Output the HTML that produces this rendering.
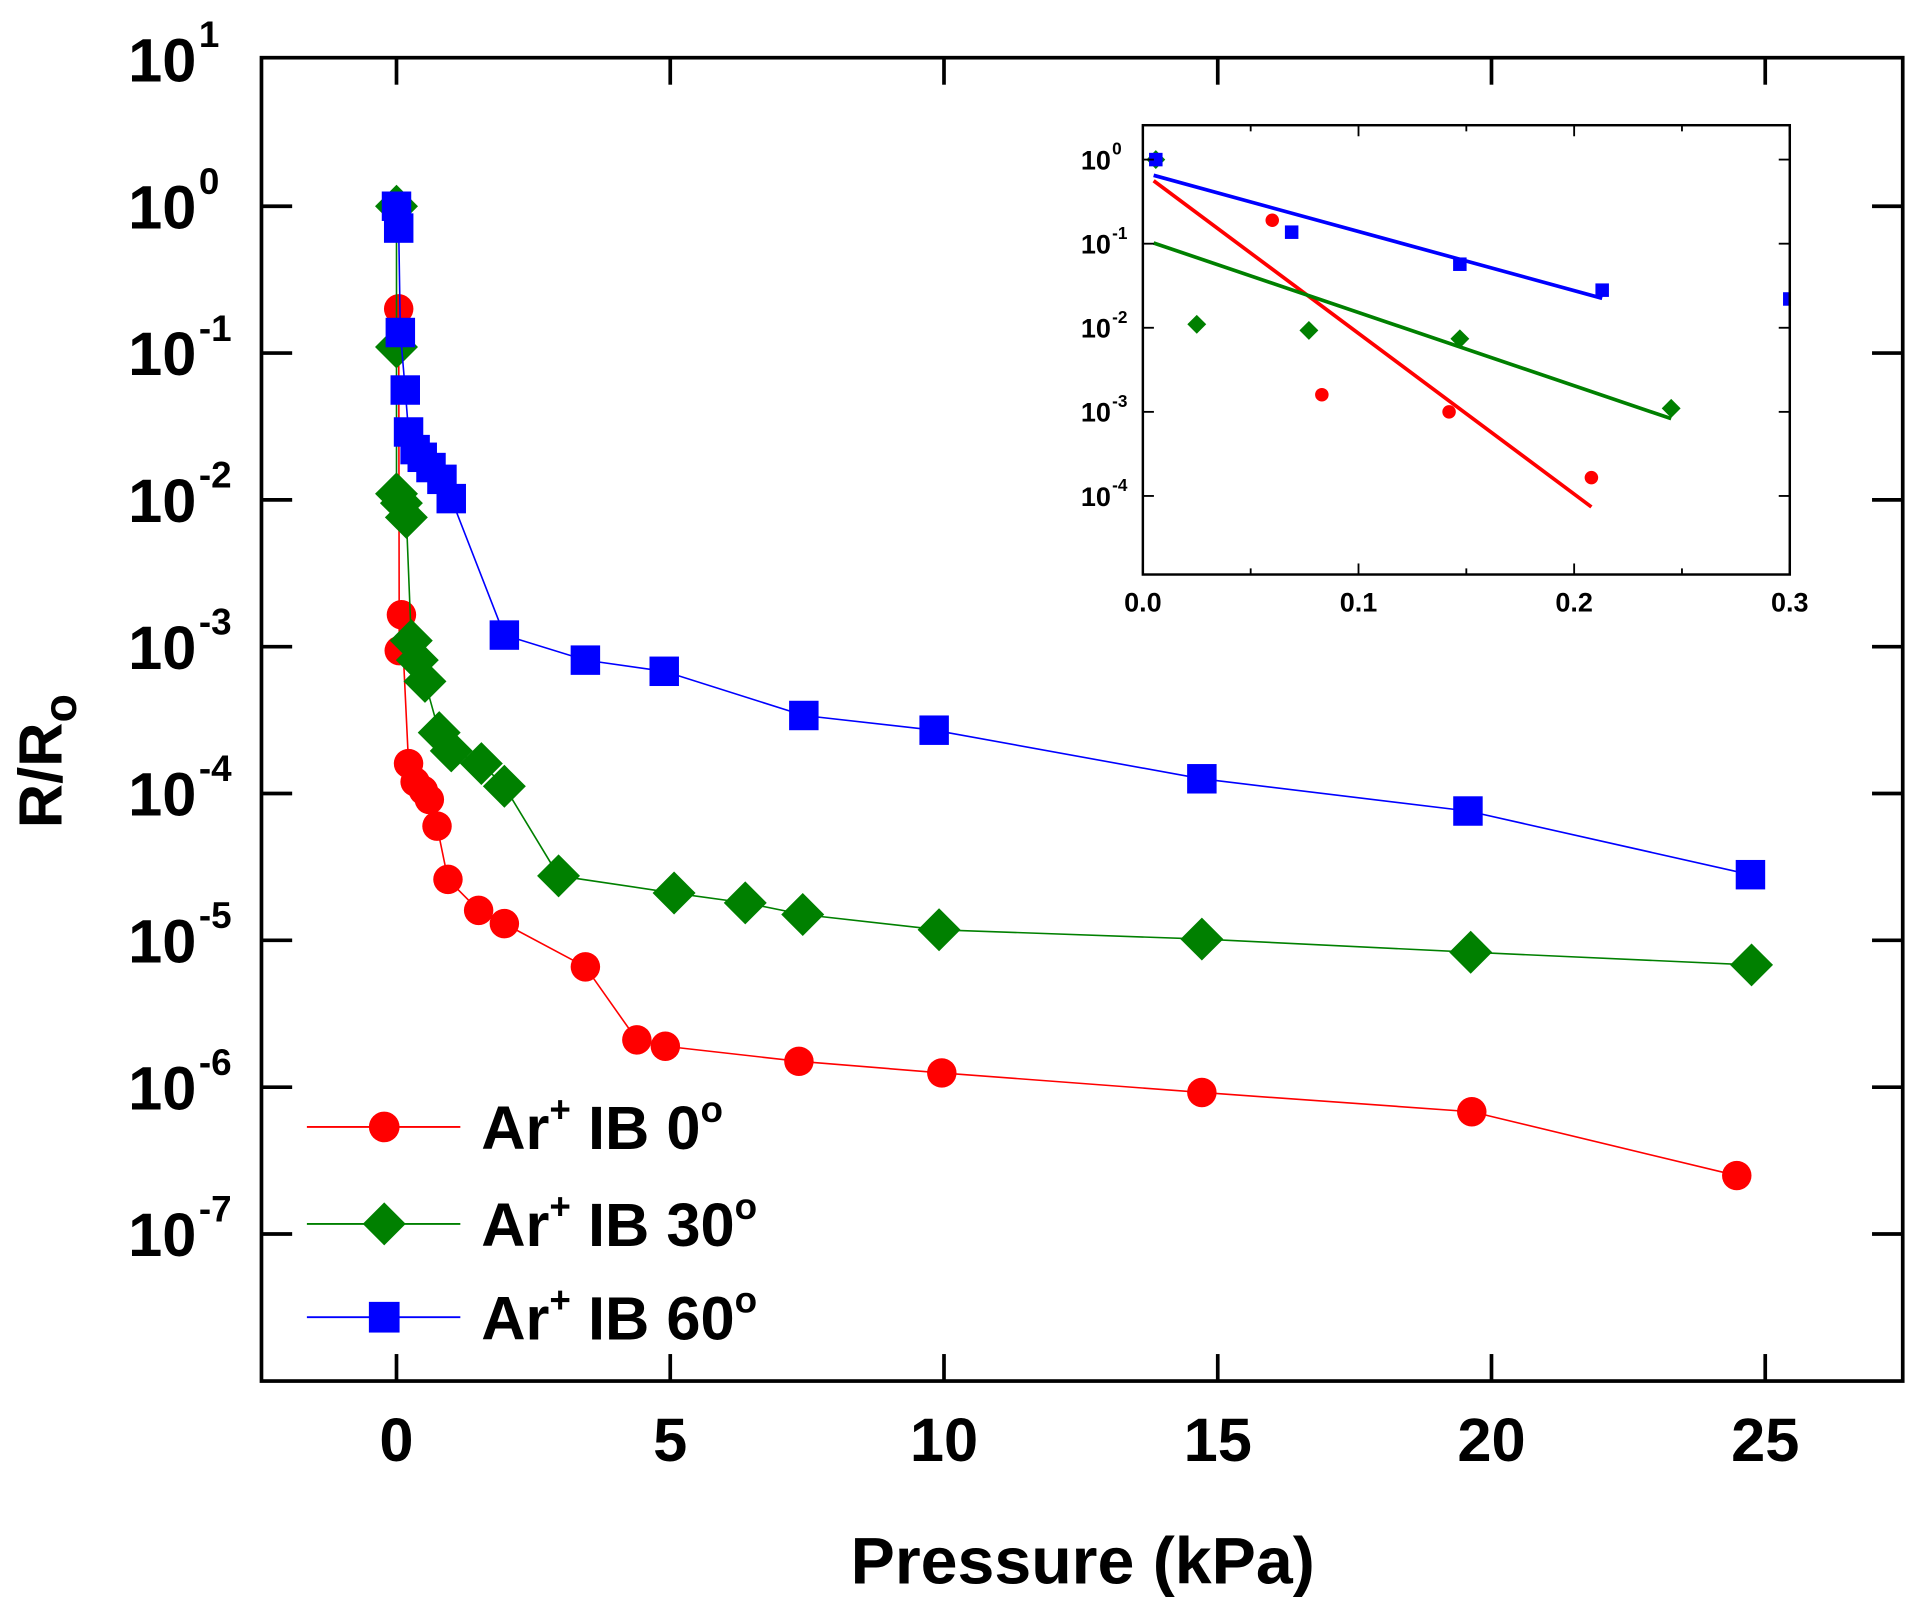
<!DOCTYPE html>
<html><head><meta charset="utf-8"><style>
html,body{margin:0;padding:0;background:#fff;}
svg{display:block;}
text{font-family:"Liberation Sans",sans-serif;font-weight:bold;fill:#000;}
</style></head><body>
<svg id="chart" width="1915" height="1603" viewBox="0 0 1560 1305.8" preserveAspectRatio="none" xmlns="http://www.w3.org/2000/svg">
<rect x="0" y="0" width="1560" height="1306" fill="#fff"/>
<g id="main"></g>
<g id="inset"></g>
</svg>
<script>
// ---- main chart data ----
const redX=[0.04,0.05,0.09,0.22,0.34,0.49,0.6,0.74,0.94,1.5,1.97,3.45,4.39,4.91,7.35,9.96,14.71,19.64,24.48];
const redY=[0.2,9.4e-4,1.65e-3,1.6e-4,1.2e-4,1.05e-4,9.1e-5,6e-5,2.6e-5,1.6e-5,1.3e-5,6.6e-6,2.1e-6,1.9e-6,1.5e-6,1.25e-6,9.2e-7,6.8e-7,2.5e-7];
const greenX=[0,0,0,0.09,0.18,0.27,0.38,0.52,0.78,1.0,1.55,1.97,2.96,5.07,6.37,7.42,9.91,14.71,19.62,24.75];
const greenY=[1,0.11,0.011,0.0095,0.0076,1.1e-3,8.1e-4,5.8e-4,2.6e-4,1.95e-4,1.6e-4,1.12e-4,2.75e-5,2.1e-5,1.8e-5,1.5e-5,1.18e-5,1.02e-5,8.3e-6,6.8e-6];
const blueX=[0,0.04,0.07,0.16,0.22,0.34,0.47,0.63,0.83,1.0,1.97,3.45,4.89,7.44,9.82,14.71,19.57,24.73];
const blueY=[1,0.71,0.138,0.056,0.029,0.022,0.0195,0.0166,0.0138,0.0102,1.2e-3,8.1e-4,6.8e-4,3.4e-4,2.7e-4,1.26e-4,7.6e-5,2.8e-5];
const xTicks=[0,5,10,15,20,25];
const yTickExp=[1,0,-1,-2,-3,-4,-5,-6,-7];
const legendLabels=["0","30","60"];
// ---- inset data ----
const inRedX=[0.06,0.083,0.142,0.208];
const inRedY=[0.19,1.6e-3,1.0e-3,1.65e-4];
const inGreenX=[0.006,0.025,0.077,0.147,0.245];
const inGreenY=[1,0.011,0.0093,0.0074,1.1e-3];
const inBlueX=[0.006,0.069,0.147,0.213,0.3];
const inBlueY=[1,0.137,0.057,0.028,0.022];
const fitRedX=[0.005,0.208], fitRedY=[0.56,7.4e-5];
const fitGreenX=[0.005,0.245], fitGreenY=[0.102,8.3e-4];
const fitBlueX=[0.005,0.213], fitBlueY=[0.65,0.0224];
const inXTicks=[0,0.1,0.2,0.3];
const inXMinor=[0.05,0.15,0.25];
const inYTickExp=[0,-1,-2,-3,-4];

const NS="http://www.w3.org/2000/svg";
function mk(parent,tag,attrs){const e=document.createElementNS(NS,tag);for(const k in attrs)e.setAttribute(k,attrs[k]);parent.appendChild(e);return e;}

// main axes
const main=document.getElementById('main');


const X0=323,XS=(1438-323)/25;
const Y0=168,YS=119.6;
const xs=v=>X0+v*XS;
const ys=v=>Y0-Math.log10(v)*YS;
const L=213,R=1550,T=47,B=1125;

function marker(g,shape,x,y,s,col){
  let e;
  if(shape==='c') e=mk(g,'circle',{cx:x,cy:y,r:s,fill:col});
  else if(shape==='s') e=mk(g,'rect',{x:x-s,y:y-s,width:2*s,height:2*s,fill:col});
  else { const d=s*1.4; e=mk(g,'polygon',{points:`${x},${y-d} ${x+d},${y} ${x},${y+d} ${x-d},${y}`,fill:col}); }
  return e;
}
function series(g,name,X,Y,col,shape,size,lw,xf,yf){
  const sg=mk(g,'g',{});
  
  
  const idx=X.map((_,i)=>i).sort((a,b)=>X[a]-X[b]);
  const pl=mk(sg,'polyline',{points:idx.map(i=>xf(X[i])+','+yf(Y[i])).join(' '),fill:'none',stroke:col,'stroke-width':lw});
  
  
  X.forEach((x,i)=>{const m=marker(sg,shape,xf(x),yf(Y[i]),size,col);
    
    });
}
series(main,'series-0deg',redX,redY,'#ff0000','c',12,1.3,xs,ys);
series(main,'series-30deg',greenX,greenY,'#008000','d',12.5,1.3,xs,ys);
series(main,'series-60deg',blueX,blueY,'#0000ff','s',12,1.3,xs,ys);

const frame=mk(main,'rect',{x:L,y:T,width:R-L,height:B-T,fill:'none',stroke:'#000','stroke-width':3});


xTicks.forEach(v=>{
  const x=xs(v);
  mk(main,'line',{x1:x,y1:B,x2:x,y2:B-22,stroke:'#000','stroke-width':3});
  mk(main,'line',{x1:x,y1:T,x2:x,y2:T+22,stroke:'#000','stroke-width':3});
  const t=mk(main,'text',{x:x,y:1190,'text-anchor':'middle','font-size':50});
  t.textContent=v;
  
  
});
yTickExp.forEach(e=>{
  const y=Y0-e*YS;
  if(e<1){mk(main,'line',{x1:L,y1:y,x2:L+25,y2:y,stroke:'#000','stroke-width':3});
  mk(main,'line',{x1:R,y1:y,x2:R-25,y2:y,stroke:'#000','stroke-width':3});}
  const t=mk(main,'text',{x:e<0?160:160,y:y+18,'text-anchor':'end','font-size':50});
  t.textContent='10';
  
  
  const s=mk(main,'text',{x:162,y:y-10,'text-anchor':'start','font-size':30});
  s.textContent=String(e).replace('-','-');
  
  
});
const xt=mk(main,'text',{x:882,y:1290,'text-anchor':'middle','font-size':54});
xt.textContent='Pressure (kPa)';


const yt=mk(main,'text',{x:0,y:0,'text-anchor':'middle','font-size':50,transform:'translate(50,620) rotate(-90)'});
yt.innerHTML='R/R<tspan font-size="38" dy="12">o</tspan>';



// legend
const cols=['#ff0000','#008000','#0000ff'],shapes=['c','d','s'],ly=[918,997,1073];
legendLabels.forEach((lab,i)=>{
  const g=mk(main,'g',{});
  
  
  mk(g,'line',{x1:250,y1:ly[i],x2:375,y2:ly[i],stroke:cols[i],'stroke-width':1.5});
  marker(g,shapes[i],313,ly[i],shapes[i]==='d'?12.5:12.5,cols[i]);
  const t=mk(g,'text',{x:392,y:ly[i]+18,'font-size':50});
  t.innerHTML='Ar<tspan font-size="30" dy="-22">+</tspan><tspan dy="22"> IB '+lab+'</tspan><tspan font-size="30" dy="-22">o</tspan>';
});

// inset
const ins=document.getElementById('inset');


const IL=931,IR=1458,IT=102,IB=468;
const ixs=v=>IL+v*(IR-IL)/0.3;
const iys=v=>130-Math.log10(v)*68.5;
mk(ins,'rect',{x:IL,y:IT,width:IR-IL,height:IB-IT,fill:'#fff',stroke:'none'});
function fit(name,X,Y,col){const l=mk(ins,'line',{x1:ixs(X[0]),y1:iys(Y[0]),x2:ixs(X[1]),y2:iys(Y[1]),stroke:col,'stroke-width':3});
  
  }
function pts(name,X,Y,col,shape,s){X.forEach((x,i)=>{const m=marker(ins,shape,ixs(x),iys(Y[i]),s,col);
  
  });}
fit('inset-fit-0deg',fitRedX,fitRedY,'#ff0000');
fit('inset-fit-30deg',fitGreenX,fitGreenY,'#008000');
fit('inset-fit-60deg',fitBlueX,fitBlueY,'#0000ff');
pts('inset-point-0deg',inRedX,inRedY,'#ff0000','c',5.5);
pts('inset-point-30deg',inGreenX,inGreenY,'#008000','d',5.5);
pts('inset-point-60deg',inBlueX,inBlueY,'#0000ff','s',5.5);
mk(ins,'rect',{x:1459,y:IT,width:20,height:IB-IT+2,fill:'#fff'});
const ifr=mk(ins,'rect',{x:IL,y:IT,width:IR-IL,height:IB-IT,fill:'none',stroke:'#000','stroke-width':2});


inXTicks.concat(inXMinor).forEach(v=>{const x=ixs(v);const len=inXMinor.includes(v)?5:9;
  mk(ins,'line',{x1:x,y1:IB,x2:x,y2:IB-len,stroke:'#000','stroke-width':1.5});
  mk(ins,'line',{x1:x,y1:IT,x2:x,y2:IT+len,stroke:'#000','stroke-width':1.5});});
inXTicks.forEach(v=>{const t=mk(ins,'text',{x:ixs(v),y:498,'text-anchor':'middle','font-size':22});
  t.textContent=v.toFixed(1);
  
  });
inYTickExp.forEach(e=>{const y=130-e*68.5;
  mk(ins,'line',{x1:IL,y1:y,x2:IL+9,y2:y,stroke:'#000','stroke-width':1.5});
  mk(ins,'line',{x1:IR,y1:y,x2:IR-9,y2:y,stroke:'#000','stroke-width':1.5});
  const t=mk(ins,'text',{x:905,y:y+8,'text-anchor':'end','font-size':22,'font-weight':'normal'});
  t.textContent='10';
  
  
  const s=mk(ins,'text',{x:906,y:y-4,'font-size':14,'font-weight':'normal'});
  s.textContent=String(e);
  
  });
</script>
</body></html>
